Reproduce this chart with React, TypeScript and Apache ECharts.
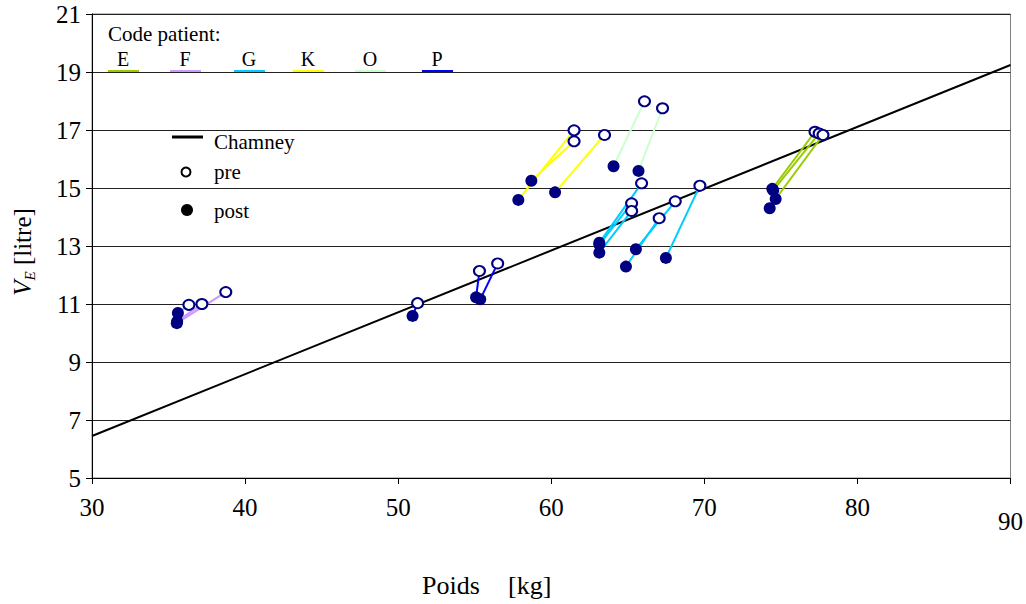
import React, { useEffect, useRef } from "react";
import * as echarts from "echarts";

// ---- Data ----
const chamneyX = [30, 90];
const chamneyY = [6.45, 19.24];

const patientCodes = ["E", "F", "G", "K", "O", "P"];
const patientColors = ["#99CC00", "#CC99FF", "#00CCFF", "#FFFF00", "#CCFFCC", "#0000FF"];

// each pair: [postX, postY, preX, preY]
const pairsE = [
  [74.44, 14.97, 77.23, 16.94],
  [74.5, 14.92, 77.5, 16.88],
  [74.66, 14.62, 77.75, 16.83],
];
const pairsF = [
  [35.61, 10.69, 36.33, 10.97],
  [35.54, 10.34, 38.74, 11.41],
  [35.56, 10.4, 37.18, 11.0],
];
const pairsG = [
  [63.14, 13.11, 65.9, 15.16],
  [63.14, 13.05, 65.25, 14.47],
  [63.14, 12.77, 65.25, 14.21],
  [65.53, 12.89, 68.1, 14.54],
  [64.88, 12.29, 67.05, 13.96],
  [67.49, 12.59, 69.71, 15.08],
];
const pairsK = [
  [57.85, 14.59, 61.49, 16.99],
  [58.7, 15.25, 61.49, 16.61],
  [60.25, 14.85, 63.48, 16.83],
];
const pairsO = [
  [64.07, 15.75, 66.09, 17.99],
  [65.7, 15.59, 67.27, 17.75],
];
const pairsP = [
  [55.09, 11.23, 55.31, 12.14],
  [55.36, 11.16, 56.5, 12.4],
  [50.94, 10.59, 51.27, 11.03],
];
const unpairedPost = [[74.27, 14.3]];

const yTicks = [5, 7, 9, 11, 13, 15, 17, 19, 21];
const xTicks = [30, 40, 50, 60, 70, 80, 90];

const FONT = "Liberation Serif";

export default function App() {
  const ref = useRef<HTMLDivElement>(null);
  useEffect(() => {
    const chart = echarts.init(ref.current!, null, { renderer: "svg" });
    const allPairs = [pairsE, pairsF, pairsG, pairsK, pairsO, pairsP];

    const series: any[] = [];
    series.push({
      type: "line",
      data: chamneyX.map((x, i) => [x, chamneyY[i]]),
      showSymbol: false,
      lineStyle: { color: "#000", width: 2 },
      silent: true,
      z: 3,
    });
    allPairs.forEach((pairs, pi) => {
      pairs.forEach((p) => {
        series.push({
          type: "line",
          data: [
            [p[0], p[1]],
            [p[2], p[3]],
          ],
          showSymbol: false,
          lineStyle: { color: patientColors[pi], width: 2 },
          silent: true,
          z: 4,
        });
      });
    });
    const preData: number[][] = [];
    const postData: number[][] = [];
    allPairs.forEach((pairs) =>
      pairs.forEach((p) => {
        preData.push([p[2], p[3]]);
        postData.push([p[0], p[1]]);
      })
    );
    unpairedPost.forEach((p) => postData.push(p));

    series.push({
      type: "scatter",
      data: preData,
      symbol: "circle",
      symbolSize: [11, 10],
      itemStyle: { color: "#fff", borderColor: "#000080", borderWidth: 2, opacity: 1 },
      z: 5,
    });
    series.push({
      type: "scatter",
      data: postData,
      symbol: "circle",
      symbolSize: 12,
      itemStyle: { color: "#000080", opacity: 1 },
      z: 6,
    });

    const txt = (x: number, y: number, text: string, size: number, extra: any = {}) => ({
      type: "text",
      x,
      y,
      z: 100,
      style: {
        text,
        fontFamily: FONT,
        fontSize: size,
        fill: "#000",
        verticalAlign: "middle",
        textVerticalAlign: "middle",
        ...extra,
      },
    });

    const legendItems: any[] = [txt(108, 34, "Code patient:", 21)];
    const legendX = [108, 170, 234, 293, 355, 422];
    patientCodes.forEach((c, i) => {
      legendItems.push(txt(legendX[i] + 15, 59, c, 20, { align: "center", textAlign: "center" }));
      legendItems.push({
        type: "line",
        shape: { x1: legendX[i], y1: 71, x2: legendX[i] + 31, y2: 71 },
        style: { stroke: patientColors[i], lineWidth: 2 },
        z: 100,
      });
    });
    legendItems.push(
      { type: "line", shape: { x1: 172, y1: 137, x2: 203, y2: 137 }, style: { stroke: "#000", lineWidth: 3 }, z: 100 },
      txt(214, 142, "Chamney", 21),
      { type: "circle", shape: { cx: 186, cy: 172, r: 4.5 }, style: { fill: "#fff", stroke: "#000", lineWidth: 2 }, z: 100 },
      txt(214, 172, "pre", 21),
      { type: "circle", shape: { cx: 187, cy: 210, r: 6 }, style: { fill: "#000" }, z: 100 },
      txt(214, 211, "post", 21),
      txt(422, 585, "Poids", 26),
      txt(508, 585, "[kg]", 26),
      {
        type: "text",
        x: 22,
        y: 252,
        rotation: Math.PI / 2,
        style: {
          text: "{v|V}{e|E}{t| [litre]}",
          align: "center",
          textAlign: "center",
          verticalAlign: "middle",
          textVerticalAlign: "middle",
          fill: "#000",
          rich: {
            v: { fontFamily: FONT, fontSize: 25, fontStyle: "italic", lineHeight: 30, verticalAlign: "middle", fill: "#000" },
            e: { fontFamily: FONT, fontSize: 15, fontStyle: "italic", lineHeight: 15, verticalAlign: "bottom", fill: "#000" },
            t: { fontFamily: FONT, fontSize: 25, lineHeight: 30, verticalAlign: "middle", fill: "#000" },
          },
        },
      }
    );

    const option: any = {
      animation: false,
      backgroundColor: "#fff",
      textStyle: { fontFamily: FONT },
      grid: {
        left: 92,
        right: 14,
        top: 14,
        bottom: 126,
        show: true,
        borderColor: "#808080",
        borderWidth: 1,
        backgroundColor: "transparent",
      },
      xAxis: {
        type: "value",
        min: xTicks[0],
        max: xTicks[xTicks.length - 1],
        interval: 10,
        axisLine: { show: true, lineStyle: { color: "#000", width: 1 } },
        axisTick: { show: true, length: 6, lineStyle: { color: "#000" } },
        splitLine: { show: false },
        axisLabel: {
          margin: 17,
          fontFamily: FONT,
          fontSize: 25,
          color: "#000",
          formatter: (v: number) => (v === 90 ? "{low|90}" : String(v)),
          rich: { low: { padding: [14, 0, 0, 0], fontFamily: FONT, fontSize: 25, color: "#000" } },
        },
      },
      yAxis: {
        type: "value",
        min: yTicks[0],
        max: yTicks[yTicks.length - 1],
        interval: 2,
        axisLine: { show: true, lineStyle: { color: "#000", width: 1 } },
        axisTick: { show: true, length: 6, lineStyle: { color: "#000" } },
        splitLine: { show: true, lineStyle: { color: "#222", width: 1 } },
        axisLabel: { margin: 11, fontFamily: FONT, fontSize: 25, color: "#000" },
      },
      graphic: legendItems,
      series,
    };
    chart.setOption(option);
    return () => chart.dispose();
  }, []);
  return <div ref={ref} style={{ position: "absolute", left: 0, top: 0, width: 1026, height: 604 }} />;
}
